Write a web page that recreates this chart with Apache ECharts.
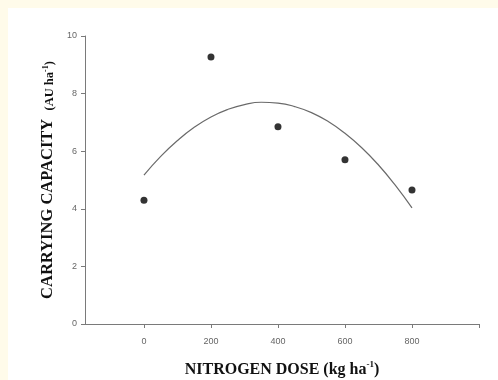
<!DOCTYPE html>
<html><head><meta charset="utf-8">
<script src="https://cdn.jsdelivr.net/npm/echarts@6/dist/echarts.min.js"></script>
<style>
html,body{margin:0;padding:0;background:#FFFBEA;width:498px;height:380px;overflow:hidden}
#c{position:absolute;left:8px;top:8px;width:490px;height:372px;background:#fff}
</style></head><body>
<div id="c"></div>
<script>
// Observed data
const doseValues = [0, 200, 400, 600, 800];
const capacityValues = [4.3, 9.27, 6.85, 5.7, 4.65];
// Fitted curve
const curveDose = [0, 50, 100, 150, 200, 250, 300, 350, 400, 450, 500, 550, 600, 650, 700, 750, 800];
const curveValues = [5.17, 5.82, 6.37, 6.83, 7.19, 7.45, 7.62, 7.70, 7.67, 7.55, 7.34, 7.03, 6.62, 6.12, 5.52, 4.82, 4.03];
// Tick labels
const xTickLabels = [0, 200, 400, 600, 800];
const xTicks = [0, 200, 400, 600, 800, 1000];
const yTickLabels = [0, 2, 4, 6, 8, 10];

const chart = echarts.init(document.getElementById('c'), null, {renderer: 'canvas'});
chart.setOption({
  backgroundColor: '#ffffff',
  animation: false,
  grid: {left: 77, right: 19, top: 28, bottom: 56, outerBoundsMode: 'none', containLabel: false},
  xAxis: {
    type: 'value', min: -176, max: 1000,
    splitLine: {show: false},
    axisLine: {onZero: false, lineStyle: {color: '#7a7a7a', width: 1}},
    axisTick: {show: true, length: 4, lineStyle: {color: '#7a7a7a'}, customValues: xTicks},
    axisLabel: {customValues: xTickLabels, color: '#666', fontSize: 9, fontFamily: 'Liberation Sans', margin: 13},
    name: '{b|NITROGEN DOSE (kg ha}{s|-1}{b|)}',
    nameLocation: 'middle', nameGap: 36,
    nameTextStyle: {
      rich: {
        b: {fontFamily: 'Liberation Serif', fontWeight: 'bold', fontSize: 16, color: '#111', lineHeight: 18, verticalAlign: 'bottom'},
        s: {fontFamily: 'Liberation Serif', fontWeight: 'bold', fontSize: 9, color: '#111', lineHeight: 18, verticalAlign: 'top'}
      }
    }
  },
  yAxis: {
    type: 'value', min: 0, max: 10, interval: 2,
    splitLine: {show: false},
    axisLine: {show: true, onZero: false, lineStyle: {color: '#7a7a7a', width: 1}},
    axisTick: {show: true, length: 4, lineStyle: {color: '#7a7a7a'}},
    axisLabel: {color: '#666', fontSize: 9, fontFamily: 'Liberation Sans', margin: 8,
      customValues: yTickLabels},
    name: '{b|CARRYING CAPACITY  }{m|(AU ha}{s|-1}{m|)}',
    nameLocation: 'middle', nameRotate: 90, nameGap: 21,
    nameTextStyle: {
      rich: {
        b: {fontFamily: 'Liberation Serif', fontWeight: 'bold', fontSize: 16.5, color: '#111', lineHeight: 18, verticalAlign: 'bottom'},
        m: {fontFamily: 'Liberation Serif', fontWeight: 'bold', fontSize: 12.5, color: '#111', lineHeight: 18, verticalAlign: 'bottom'},
        s: {fontFamily: 'Liberation Serif', fontWeight: 'bold', fontSize: 8, color: '#111', lineHeight: 18, verticalAlign: 'bottom', padding: [0, 0, 6, 0]}
      }
    }
  },
  series: [
    {
      type: 'line',
      data: curveDose.map((d, i) => [d, curveValues[i]]),
      smooth: true, symbol: 'none',
      lineStyle: {color: '#6a6a6a', width: 1.2},
      z: 2
    },
    {
      type: 'scatter',
      data: doseValues.map((d, i) => [d, capacityValues[i]]),
      symbol: 'circle', symbolSize: 7,
      itemStyle: {color: '#000'},
      z: 3
    }
  ]
});
</script>
</body></html>
